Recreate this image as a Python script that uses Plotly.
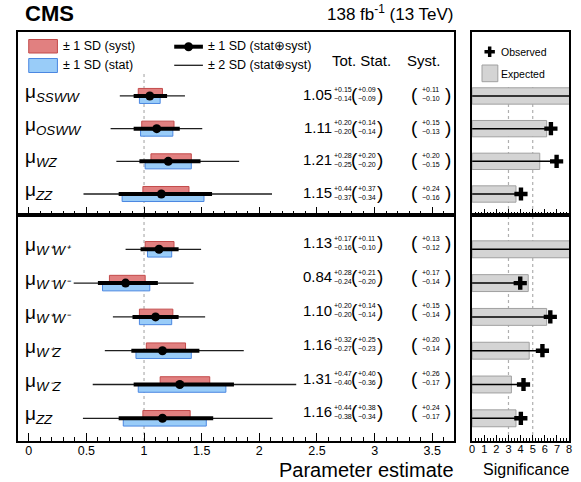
import plotly.graph_objects as go

# ---------------- data ----------------
upper_names = ["SSWW", "OSWW", "WZ", "ZZ"]
upper_mu = [1.05, 1.11, 1.21, 1.15]
upper_tot_up = [0.15, 0.20, 0.28, 0.44]
upper_tot_dn = [0.14, 0.20, 0.25, 0.37]
upper_stat_up = [0.09, 0.14, 0.20, 0.37]
upper_stat_dn = [0.09, 0.14, 0.20, 0.34]
upper_syst_up = [0.11, 0.15, 0.20, 0.24]
upper_syst_dn = [0.10, 0.13, 0.15, 0.16]
upper_2sd_lo = [0.79, 0.71, 0.76, 0.475]
upper_2sd_hi = [1.355, 1.505, 1.825, 2.11]
upper_sig_exp = [9.5, 6.15, 5.58, 3.62]
upper_sig_obs = [10.0, 6.5, 6.97, 4.03]

lower_names = ["W⁺W⁺", "W⁻W⁻", "W⁺W⁻", "W⁺Z", "W⁻Z", "ZZ"]
lower_mu = [1.13, 0.84, 1.10, 1.16, 1.31, 1.16]
lower_tot_up = [0.17, 0.28, 0.20, 0.32, 0.47, 0.44]
lower_tot_dn = [0.16, 0.24, 0.20, 0.27, 0.40, 0.38]
lower_stat_up = [0.11, 0.21, 0.14, 0.25, 0.40, 0.38]
lower_stat_dn = [0.10, 0.20, 0.14, 0.23, 0.36, 0.34]
lower_syst_up = [0.13, 0.17, 0.15, 0.20, 0.26, 0.24]
lower_syst_dn = [0.12, 0.14, 0.14, 0.14, 0.17, 0.17]
lower_2sd_lo = [0.84, 0.39, 0.73, 0.66, 0.555, 0.47]
lower_2sd_hi = [1.495, 1.43, 1.53, 1.865, 2.32, 2.115]
lower_sig_exp = [9.5, 4.63, 6.15, 4.71, 3.24, 3.62]
lower_sig_obs = [10.0, 3.97, 6.45, 5.8, 4.24, 4.02]

sm_reference = [1.0]
sig_reference = [3, 5]

# ---------------- style / layout constants ----------------
W, H = 581, 482
FONT = "Liberation Sans, Arial, Helvetica, sans-serif"
RED, RED_L = "rgb(225,128,128)", "rgb(195,75,75)"
BLUE, BLUE_L = "rgb(153,204,248)", "rgb(75,135,225)"
GREY, GREY_L = "rgb(212,212,212)", "rgb(160,160,160)"

MAIN_X = (15, 456)
SIG_X = (474, 572)
TOP, MID, BOT = 31.5, 215, 441


def fx(px):
    return px / W


def fy(py):
    return 1 - py / H


fig = go.Figure()


def add_panel(names, mu, tu, td, su, sd, yu, yd, lo2, hi2, sexp, sobs, xa, ya, sxa, sya, yref, text_dy):
    rows = list(range(len(names)))
    # syst (red, above centre)
    fig.add_trace(go.Bar(y=rows, x=[u + d for u, d in zip(yu, yd)], base=[m - d for m, d in zip(mu, yd)],
                         orientation="h", width=0.23, offset=-0.23,
                         marker=dict(color=RED, line=dict(color=RED_L, width=1)),
                         xaxis=xa, yaxis=ya, showlegend=False, hoverinfo="skip"))
    # stat (blue, below centre)
    fig.add_trace(go.Bar(y=rows, x=[u + d for u, d in zip(su, sd)], base=[m - d for m, d in zip(mu, sd)],
                         orientation="h", width=0.23, offset=0.0,
                         marker=dict(color=BLUE, line=dict(color=BLUE_L, width=1)),
                         xaxis=xa, yaxis=ya, showlegend=False, hoverinfo="skip"))
    # 2 SD thin line
    xs, ys = [], []
    for r, a, b in zip(rows, lo2, hi2):
        xs += [a, b, None]
        ys += [r, r, None]
    fig.add_trace(go.Scatter(x=xs, y=ys, mode="lines", line=dict(color="rgb(30,30,30)", width=1.3),
                             xaxis=xa, yaxis=ya, showlegend=False, hoverinfo="skip"))
    # 1 SD thick line
    xs, ys = [], []
    for r, m, u, d in zip(rows, mu, tu, td):
        xs += [m - d, m + u, None]
        ys += [r, r, None]
    fig.add_trace(go.Scatter(x=xs, y=ys, mode="lines", line=dict(color="black", width=4),
                             xaxis=xa, yaxis=ya, showlegend=False, hoverinfo="skip"))
    fig.add_trace(go.Scatter(x=mu, y=rows, mode="markers", marker=dict(color="black", size=9),
                             xaxis=xa, yaxis=ya, showlegend=False, hoverinfo="skip"))
    # significance
    fig.add_trace(go.Bar(y=rows, x=sexp, base=0, orientation="h", width=0.5,
                         marker=dict(color=GREY, line=dict(color=GREY_L, width=1)),
                         xaxis=sxa, yaxis=sya, showlegend=False, hoverinfo="skip"))
    xs, ys = [], []
    for r, o in zip(rows, sobs):
        xs += [0, o, None]
        ys += [r, r, None]
    fig.add_trace(go.Scatter(x=xs, y=ys, mode="lines", line=dict(color="black", width=1.5),
                             xaxis=sxa, yaxis=sya, showlegend=False, hoverinfo="skip"))
    fig.add_trace(go.Scatter(x=sobs, y=rows, mode="markers",
                             marker=dict(symbol="cross", color="black", size=11, line=dict(width=0)),
                             xaxis=sxa, yaxis=sya, showlegend=False, hoverinfo="skip"))

    # texts
    for r, n, m, a, b, c, d, e, f in zip(rows, names, mu, tu, td, su, sd, yu, yd):
        fig.add_annotation(text=f"μ<sub><i>{n}</i></sub>", xref="paper", x=fx(20), xanchor="left",
                           yref=yref, y=r, yanchor="middle", yshift=3, showarrow=False,
                           font=dict(size=19, family=FONT, color="black"))
        fig.add_annotation(text=f"{m:.2f}", xref="paper", x=fx(334), xanchor="right",
                           yref=yref, y=r, yshift=text_dy, showarrow=False,
                           font=dict(size=15, family=FONT, color="black"))
        for cx, up, dn in ((344, a, b), (367.5, c, d), (432, e, f)):
            fig.add_annotation(text=f"+{up:.2f}", xref="paper", x=fx(cx), xanchor="center",
                               yref=yref, y=r, yshift=text_dy + 4.5, showarrow=False,
                               font=dict(size=7, family=FONT, color="black"))
            fig.add_annotation(text=f"−{dn:.2f}", xref="paper", x=fx(cx), xanchor="center",
                               yref=yref, y=r, yshift=text_dy - 4.5, showarrow=False,
                               font=dict(size=7, family=FONT, color="black"))
        for cx, ch in ((355.5, "("), (380.5, ")"), (416, "("), (450, ")")):
            fig.add_annotation(text=ch, xref="paper", x=fx(cx), xanchor="center",
                               yref=yref, y=r, yshift=text_dy, showarrow=False,
                               font=dict(size=19, family=FONT, color="black"))


add_panel(upper_names, upper_mu, upper_tot_up, upper_tot_dn, upper_stat_up, upper_stat_dn,
          upper_syst_up, upper_syst_dn, upper_2sd_lo, upper_2sd_hi, upper_sig_exp, upper_sig_obs,
          "x2", "y2", "x4", "y4", "y2", 1.5)
add_panel(lower_names, lower_mu, lower_tot_up, lower_tot_dn, lower_stat_up, lower_stat_dn,
          lower_syst_up, lower_syst_dn, lower_2sd_lo, lower_2sd_hi, lower_sig_exp, lower_sig_obs,
          "x", "y", "x3", "y3", "y", 6.5)

# ---------------- axes ----------------
px_per_unit = 116.5
xr = [-(26 - MAIN_X[0]) / px_per_unit, -(26 - MAIN_X[0]) / px_per_unit + (MAIN_X[1] - MAIN_X[0]) / px_per_unit]

frame = dict(showline=True, linecolor="black", linewidth=2, mirror=True, showgrid=False, zeroline=False)
xbase = dict(frame, ticks="inside", tickcolor="black", tickwidth=1,
             tickfont=dict(size=12.5, family=FONT, color="black"))

up_sp = 32.7
lo_sp = 33.8
y_up_range = [3 + (MID - 194) / up_sp, -(96 - TOP) / up_sp]
y_lo_range = [5 + (BOT - 418.3) / lo_sp, -(249.3 - MID) / lo_sp]

fig.update_layout(
    width=W, height=H, margin=dict(l=0, r=0, t=0, b=0),
    paper_bgcolor="white", plot_bgcolor="white", barmode="overlay", showlegend=False,
    xaxis=dict(xbase, domain=[fx(MAIN_X[0]), fx(MAIN_X[1])], range=xr, anchor="y",
               tick0=0, dtick=0.5, ticklen=8, ticklabelstandoff=-3,
               minor=dict(dtick=0.1, tick0=0, ticklen=4, ticks="inside", tickcolor="black", showgrid=False)),
    yaxis=dict(frame, domain=[fy(BOT), fy(MID)], range=y_lo_range, showticklabels=False, ticks="", anchor="x"),
    xaxis2=dict(xbase, domain=[fx(MAIN_X[0]), fx(MAIN_X[1])], range=xr, anchor="y2",
                tick0=0, dtick=0.5, ticklen=8, showticklabels=False,
                minor=dict(dtick=0.1, tick0=0, ticklen=4, ticks="inside", tickcolor="black", showgrid=False)),
    yaxis2=dict(frame, domain=[fy(MID), fy(TOP)], range=y_up_range, showticklabels=False, ticks="", anchor="x2"),
    xaxis3=dict(xbase, domain=[fx(SIG_X[0]), fx(SIG_X[1])], range=[0, 8], anchor="y3",
                tick0=0, dtick=1, ticklen=6, ticklabelstandoff=-3, tickfont=dict(size=11, family=FONT, color="black"),
                minor=dict(dtick=0.25, tick0=0, ticklen=3, ticks="inside", tickcolor="black", showgrid=False)),
    yaxis3=dict(frame, domain=[fy(BOT), fy(MID)], range=y_lo_range, showticklabels=False, ticks="", anchor="x3"),
    xaxis4=dict(xbase, domain=[fx(SIG_X[0]), fx(SIG_X[1])], range=[0, 8], anchor="y4",
                tick0=0, dtick=1, ticklen=6, showticklabels=False,
                minor=dict(dtick=0.25, tick0=0, ticklen=3, ticks="inside", tickcolor="black", showgrid=False)),
    yaxis4=dict(frame, domain=[fy(MID), fy(TOP)], range=y_up_range, showticklabels=False, ticks="", anchor="x4"),
)

# ---------------- reference lines ----------------
dash = dict(color="rgb(175,175,175)", width=1.2, dash="3px,3px")
for v in sm_reference:
    fig.add_shape(type="line", xref="x", yref="y domain", x0=v, x1=v, y0=0, y1=1, line=dash, layer="below")
    fig.add_shape(type="line", xref="x2", yref="y2 domain", x0=v, x1=v, y0=0, y1=(MID - 74) / (MID - TOP),
                  line=dash, layer="below")
for v in sig_reference:
    fig.add_shape(type="line", xref="x3", yref="y3 domain", x0=v, x1=v, y0=0, y1=1, line=dash, layer="below")
    fig.add_shape(type="line", xref="x4", yref="y4 domain", x0=v, x1=v, y0=0, y1=(MID - 87) / (MID - TOP),
                  line=dash, layer="below")


# ---------------- legends ----------------
def prect(x0, y0, x1, y1, fill, line, lw=1):
    fig.add_shape(type="rect", xref="paper", yref="paper", x0=fx(x0), x1=fx(x1), y0=fy(y1), y1=fy(y0),
                  fillcolor=fill, line=dict(color=line, width=lw))


def ptext(text, x, y, size, xanchor="left", bold=False):
    if bold:
        text = f"<b>{text}</b>"
    fig.add_annotation(text=text, xref="paper", yref="paper", x=fx(x), y=fy(y), xanchor=xanchor,
                       yanchor="middle", showarrow=False, font=dict(size=size, family=FONT, color="black"))


prect(26, 39.5, 55, 53, RED, RED_L)
prect(26, 58.5, 55, 72.5, BLUE, BLUE_L)
fig.add_shape(type="line", xref="paper", yref="paper", x0=fx(173), x1=fx(202), y0=fy(46.7), y1=fy(46.7),
              line=dict(color="black", width=4))
fig.add_shape(type="circle", xref="paper", yref="paper", x0=fx(183), x1=fx(192), y0=fy(51.2), y1=fy(42.2),
              fillcolor="black", line=dict(color="black", width=0))
fig.add_shape(type="line", xref="paper", yref="paper", x0=fx(173), x1=fx(202), y0=fy(65.3), y1=fy(65.3),
              line=dict(color="rgb(30,30,30)", width=1.3))
ptext("± 1 SD (syst)", 59, 46.5, 12.5)
ptext("± 1 SD (stat)", 59, 65.5, 12.5)
ptext("± 1 SD (stat⊕syst)", 205, 46.5, 12.5)
ptext("± 2 SD (stat⊕syst)", 205, 65.5, 12.5)

# significance legend
prect(486.5, 50, 497, 53.5, "black", "black", 0)
prect(490, 46.5, 493.5, 57, "black", "black", 0)
prect(484, 65, 500, 81.7, GREY, GREY_L)
ptext("Observed", 501, 52, 10.5)
ptext("Expected", 501, 74, 10.5)

# headers and titles
ptext("Tot. Stat.", 330, 60, 15)
ptext("Syst.", 406, 60, 15)
ptext("CMS", 20, 13.5, 22, bold=True)
ptext("138 fb<sup>-1</sup> (13 TeV)", 458, 13, 17, xanchor="right")
ptext("Parameter estimate", 458, 470, 20, xanchor="right")
ptext("Significance", 574, 469, 16, xanchor="right")

fig.write_html("out.html")
